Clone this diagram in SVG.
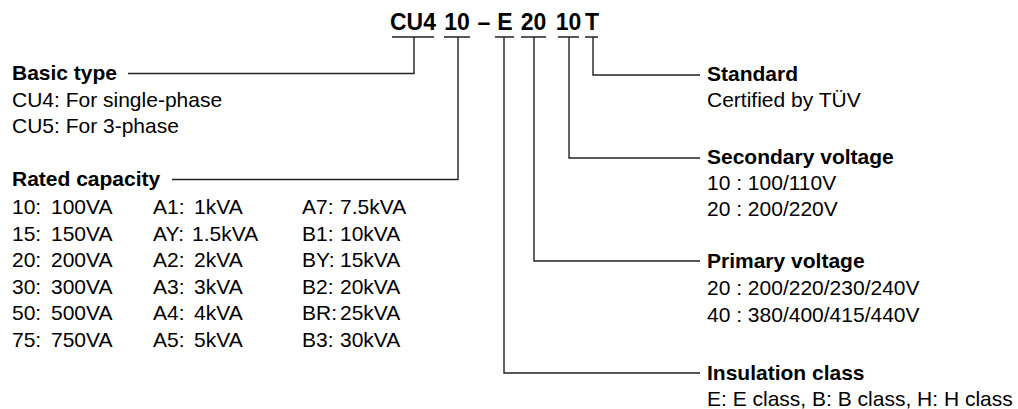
<svg xmlns="http://www.w3.org/2000/svg" width="1018" height="409" viewBox="0 0 1018 409">
<style>
text{font-family:"Liberation Sans",Arial,sans-serif;font-size:21px;fill:#000}
.b{font-weight:bold}
.t{font-weight:bold;font-size:23px;text-anchor:middle}
.c{fill:none;stroke:#222;stroke-width:1.4}
</style>
<rect width="1018" height="409" fill="#fff"/>
<g id="code">
<text class="t" x="413" y="29.5">CU4</text>
<text class="t" x="457" y="29.5">10</text>
<text class="t" x="484" y="29.5">–</text>
<text class="t" x="505" y="29.5">E</text>
<text class="t" x="533.5" y="29.5">20</text>
<text class="t" x="568.5" y="29.5">10</text>
<text class="t" x="592" y="29.5">T</text>
</g>
<g id="connectors">
<path class="c" d="M392 37H434M444 37H470M495 37H514M521 37H546M558 37H579M585 37H598"/>
<path class="c" d="M414 37V73.5H128"/>
<path class="c" d="M458 37V179.5H172"/>
<path class="c" d="M504 37V373H700"/>
<path class="c" d="M534 37V261H700"/>
<path class="c" d="M569 37V158H700"/>
<path class="c" d="M593 37V75H700"/>
</g>
<g id="basic-type">
<text class="b" x="12" y="79.5">Basic type</text>
<text x="12" y="106.5">CU4: For single-phase</text>
<text x="12" y="132.5">CU5: For 3-phase</text>
</g>
<g id="rated-capacity">
<text class="b" x="12" y="186">Rated capacity</text>
<text y="214"><tspan x="12">10:</tspan><tspan x="51">100VA</tspan><tspan x="153">A1:</tspan><tspan x="194">1kVA</tspan><tspan x="302">A7:</tspan><tspan x="340">7.5kVA</tspan></text>
<text y="240.5"><tspan x="12">15:</tspan><tspan x="51">150VA</tspan><tspan x="153">AY:</tspan><tspan x="192">1.5kVA</tspan><tspan x="302">B1:</tspan><tspan x="340">10kVA</tspan></text>
<text y="267"><tspan x="12">20:</tspan><tspan x="51">200VA</tspan><tspan x="153">A2:</tspan><tspan x="194">2kVA</tspan><tspan x="302">BY:</tspan><tspan x="340">15kVA</tspan></text>
<text y="293.5"><tspan x="12">30:</tspan><tspan x="51">300VA</tspan><tspan x="153">A3:</tspan><tspan x="194">3kVA</tspan><tspan x="302">B2:</tspan><tspan x="340">20kVA</tspan></text>
<text y="320"><tspan x="12">50:</tspan><tspan x="51">500VA</tspan><tspan x="153">A4:</tspan><tspan x="194">4kVA</tspan><tspan x="302">BR:</tspan><tspan x="340">25kVA</tspan></text>
<text y="346.5"><tspan x="12">75:</tspan><tspan x="51">750VA</tspan><tspan x="153">A5:</tspan><tspan x="194">5kVA</tspan><tspan x="302">B3:</tspan><tspan x="340">30kVA</tspan></text>
</g>
<g id="standard">
<text class="b" x="707" y="81">Standard</text>
<text x="707" y="107">Certified by TÜV</text>
</g>
<g id="secondary-voltage">
<text class="b" x="707" y="164">Secondary voltage</text>
<text x="707" y="190">10 : 100/110V</text>
<text x="707" y="216">20 : 200/220V</text>
</g>
<g id="primary-voltage">
<text class="b" x="707" y="267.5">Primary voltage</text>
<text x="707" y="295">20 : 200/220/230/240V</text>
<text x="707" y="321.5">40 : 380/400/415/440V</text>
</g>
<g id="insulation-class">
<text class="b" x="707" y="380">Insulation class</text>
<text x="707" y="406">E: E class, B: B class, H: H class</text>
</g>
</svg>
